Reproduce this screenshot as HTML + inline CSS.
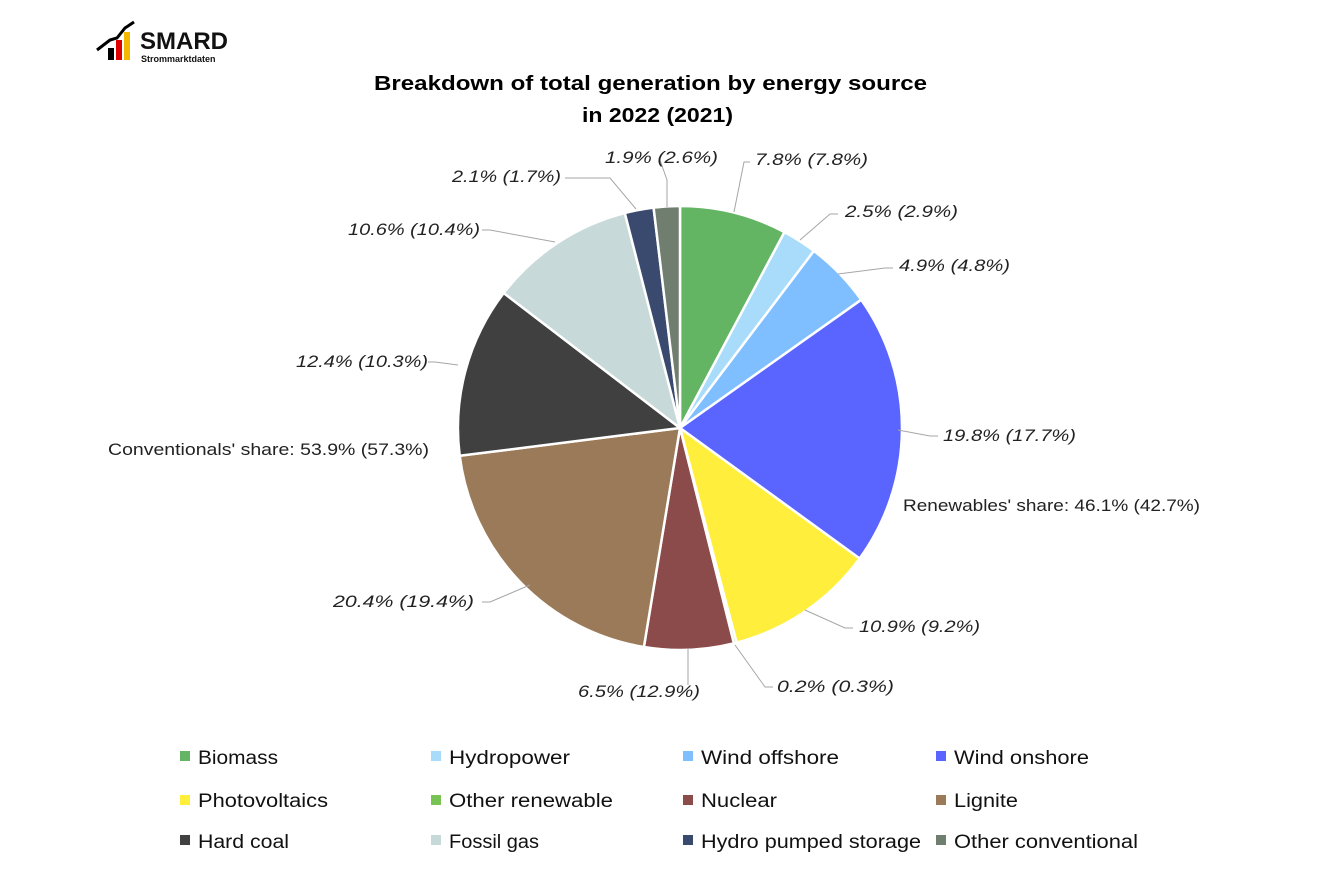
<!DOCTYPE html>
<html><head><meta charset="utf-8"><style>
body{margin:0;background:#fff;}
svg text{font-family:"Liberation Sans",Arial,sans-serif;}
</style></head><body>
<svg width="1334" height="889" viewBox="0 0 1334 889" xmlns="http://www.w3.org/2000/svg">
<rect width="1334" height="889" fill="#fff"/>
<g>
<rect x="108" y="48" width="6" height="12" fill="#000"/>
<rect x="116" y="40" width="6" height="20" fill="#d00"/>
<rect x="124" y="32" width="6" height="28" fill="#f5b800"/>
<polyline points="97,50 110,40 117,38 125,28 134,22" fill="none" stroke="#000" stroke-width="3"/>
<text x="140" y="49" font-size="24" font-weight="bold" fill="#111">SMARD</text>
<text x="141" y="62" font-size="9" font-weight="bold" fill="#111">Strommarktdaten</text>
</g>
<text x="374" y="90" font-size="20" font-weight="bold" fill="#000" textLength="553" lengthAdjust="spacingAndGlyphs">Breakdown of total generation by energy source</text>
<text x="582" y="122" font-size="20" font-weight="bold" fill="#000" textLength="151" lengthAdjust="spacingAndGlyphs">in 2022 (2021)</text>
<g stroke="#fff" stroke-width="2.5" stroke-linejoin="round">
<path d="M680,428 L680,206 A222,222 0 0 1 784.5,232.1 Z" fill="#63b463"/>
<path d="M680,428 L784.5,232.1 A222,222 0 0 1 813.9,250.9 Z" fill="#a8dcfa"/>
<path d="M680,428 L813.9,250.9 A222,222 0 0 1 861.2,299.8 Z" fill="#7fbfff"/>
<path d="M680,428 L861.2,299.8 A222,222 0 0 1 859.6,558.5 Z" fill="#5a64ff"/>
<path d="M680,428 L859.6,558.5 A222,222 0 0 1 736.6,642.7 Z" fill="#ffef3c"/>
<path d="M680,428 L736.6,642.7 A222,222 0 0 1 733.9,643.4 Z" fill="#77c455"/>
<path d="M680,428 L733.9,643.4 A222,222 0 0 1 643.9,647 Z" fill="#8b4b4b"/>
<path d="M680,428 L643.9,647 A222,222 0 0 1 459.7,455.8 Z" fill="#9a7a58"/>
<path d="M680,428 L459.7,455.8 A222,222 0 0 1 503.7,293 Z" fill="#404040"/>
<path d="M680,428 L503.7,293 A222,222 0 0 1 624.8,213 Z" fill="#c8d9d9"/>
<path d="M680,428 L624.8,213 A222,222 0 0 1 653.6,207.6 Z" fill="#3a4a6e"/>
<path d="M680,428 L653.6,207.6 A222,222 0 0 1 680,206 Z" fill="#707e70"/>
</g>
<g stroke="#a6a6a6" stroke-width="1" fill="none">
<polyline points="734,212 744,162 750,162"/>
<polyline points="800,240 830,214 838,214"/>
<polyline points="838,274 885,268 893,268"/>
<polyline points="898,430 930,436 938,436"/>
<polyline points="805,610 845,628 853,628"/>
<polyline points="735,645 765,687 773,687"/>
<polyline points="688,648 688,685"/>
<polyline points="530,585 490,602 482,602"/>
<polyline points="458,365 435,362 428,362"/>
<polyline points="555,242 490,230 482,230"/>
<polyline points="636,209 610,178 565,178"/>
<polyline points="667,207 667,180 660,160"/>
</g>
<g font-size="17" font-style="italic" fill="#222" lengthAdjust="spacingAndGlyphs">
<text x="755" y="165" textLength="113" lengthAdjust="spacingAndGlyphs">7.8% (7.8%)</text>
<text x="845" y="217" textLength="113" lengthAdjust="spacingAndGlyphs">2.5% (2.9%)</text>
<text x="899" y="271" textLength="111" lengthAdjust="spacingAndGlyphs">4.9% (4.8%)</text>
<text x="943" y="441" textLength="133" lengthAdjust="spacingAndGlyphs">19.8% (17.7%)</text>
<text x="859" y="632" textLength="121" lengthAdjust="spacingAndGlyphs">10.9% (9.2%)</text>
<text x="777" y="692" textLength="117" lengthAdjust="spacingAndGlyphs">0.2% (0.3%)</text>
<text x="578" y="697" textLength="122" lengthAdjust="spacingAndGlyphs">6.5% (12.9%)</text>
<text x="333" y="607" textLength="141" lengthAdjust="spacingAndGlyphs">20.4% (19.4%)</text>
<text x="296" y="367" textLength="132" lengthAdjust="spacingAndGlyphs">12.4% (10.3%)</text>
<text x="348" y="235" textLength="132" lengthAdjust="spacingAndGlyphs">10.6% (10.4%)</text>
<text x="452" y="182" textLength="109" lengthAdjust="spacingAndGlyphs">2.1% (1.7%)</text>
<text x="605" y="163" textLength="113" lengthAdjust="spacingAndGlyphs">1.9% (2.6%)</text>
</g>
<g font-size="17" fill="#222">
<text x="903" y="511" textLength="297" lengthAdjust="spacingAndGlyphs">Renewables' share: 46.1% (42.7%)</text>
<text x="108" y="455" textLength="321" lengthAdjust="spacingAndGlyphs">Conventionals' share: 53.9% (57.3%)</text>
</g>
<g font-size="19" fill="#111">
<rect x="180" y="751" width="10" height="10" fill="#63b463"/><text x="198" y="764" textLength="80" lengthAdjust="spacingAndGlyphs">Biomass</text>
<rect x="431" y="751" width="10" height="10" fill="#a8dcfa"/><text x="449" y="764" textLength="121" lengthAdjust="spacingAndGlyphs">Hydropower</text>
<rect x="683" y="751" width="10" height="10" fill="#7fbfff"/><text x="701" y="764" textLength="138" lengthAdjust="spacingAndGlyphs">Wind offshore</text>
<rect x="936" y="751" width="10" height="10" fill="#5a64ff"/><text x="954" y="764" textLength="135" lengthAdjust="spacingAndGlyphs">Wind onshore</text>
<rect x="180" y="795" width="10" height="10" fill="#ffef3c"/><text x="198" y="807" textLength="130" lengthAdjust="spacingAndGlyphs">Photovoltaics</text>
<rect x="431" y="795" width="10" height="10" fill="#77c455"/><text x="449" y="807" textLength="164" lengthAdjust="spacingAndGlyphs">Other renewable</text>
<rect x="683" y="795" width="10" height="10" fill="#8b4b4b"/><text x="701" y="807" textLength="76" lengthAdjust="spacingAndGlyphs">Nuclear</text>
<rect x="936" y="795" width="10" height="10" fill="#9a7a58"/><text x="954" y="807" textLength="64" lengthAdjust="spacingAndGlyphs">Lignite</text>
<rect x="180" y="835" width="10" height="10" fill="#404040"/><text x="198" y="848" textLength="91" lengthAdjust="spacingAndGlyphs">Hard coal</text>
<rect x="431" y="835" width="10" height="10" fill="#c8d9d9"/><text x="449" y="848" textLength="90" lengthAdjust="spacingAndGlyphs">Fossil gas</text>
<rect x="683" y="835" width="10" height="10" fill="#3a4a6e"/><text x="701" y="848" textLength="220" lengthAdjust="spacingAndGlyphs">Hydro pumped storage</text>
<rect x="936" y="835" width="10" height="10" fill="#707e70"/><text x="954" y="848" textLength="184" lengthAdjust="spacingAndGlyphs">Other conventional</text>
</g>
</svg>
</body></html>
